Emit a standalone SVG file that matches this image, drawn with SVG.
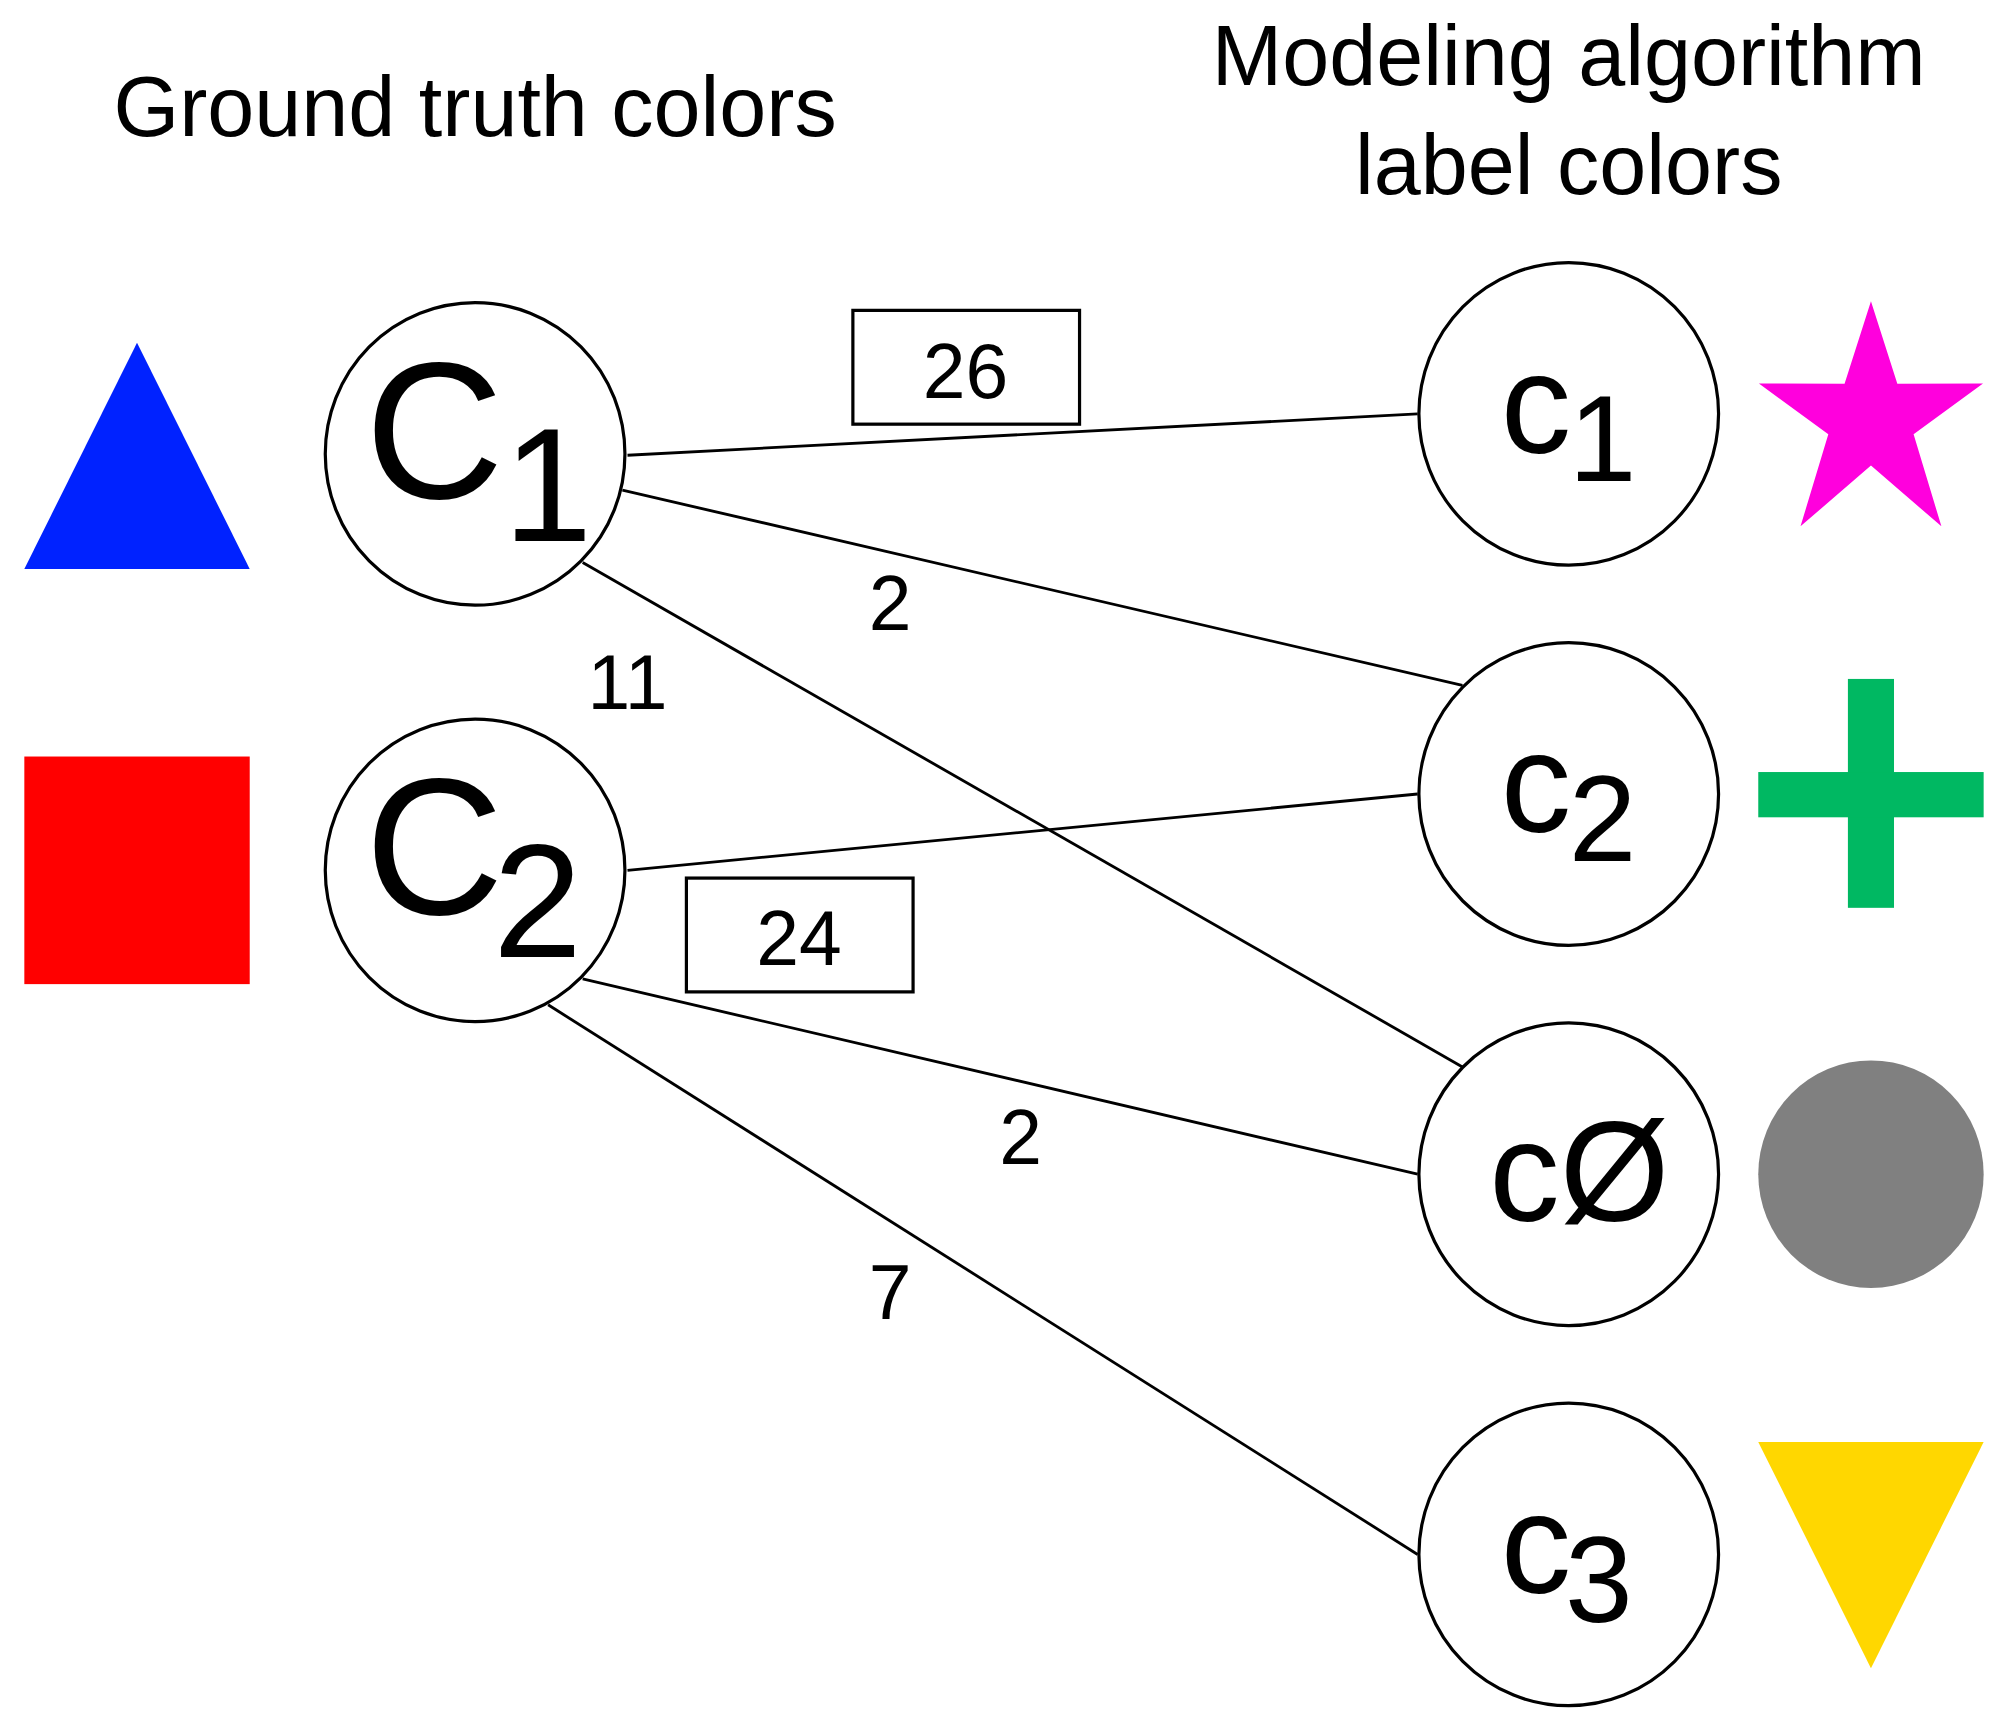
<svg xmlns="http://www.w3.org/2000/svg" width="2008" height="1720" viewBox="0 0 2008 1720">
<style>
.n{fill:#fff;stroke:#000;stroke-width:2.5}
.e{stroke:#000;stroke-width:2.2;fill:none}
text{font-family:"Liberation Sans",Arial,sans-serif;fill:#000}
.t{font-size:66px;text-anchor:middle}
.l{font-size:60px;text-anchor:middle}
.b{fill:#fff;stroke:#000;stroke-width:2.5}
</style>
<rect width="2008" height="1720" fill="#fff"/>
<g transform="scale(1.2806,1.2932)">
<text class="t" x="371" y="105">Ground truth colors</text>
<text class="t" x="1225" y="66">Modeling algorithm</text>
<text class="t" x="1225" y="150">label colors</text>
<g id="connectors">
<line class="e" x1="490" y1="352" x2="1107" y2="320"/>
<line class="e" x1="486" y1="379" x2="1142" y2="530"/>
<line class="e" x1="455" y1="435" x2="1142" y2="825"/>
<line class="e" x1="490" y1="673" x2="1107" y2="614"/>
<line class="e" x1="455" y1="757" x2="1107" y2="908"/>
<line class="e" x1="428" y1="777" x2="1107" y2="1202"/>
<rect class="b" x="666" y="240" width="177" height="88"/>
<text class="l" x="754" y="308">26</text>
<rect class="b" x="536" y="679" width="177" height="88"/>
<text class="l" x="624" y="746">24</text>
<text class="l" x="695" y="487">2</text>
<text class="l" x="490" y="548">11</text>
<text class="l" x="797" y="900">2</text>
<text class="l" x="695" y="1020">7</text>
</g>
<g id="C1"><circle class="n" cx="371" cy="351" r="117"/><text x="285" y="385" font-size="150">C</text><text x="393" y="418" font-size="125">1</text></g>
<g id="C2"><circle class="n" cx="371" cy="673" r="117"/><text x="285" y="707" font-size="150">C</text><text x="385" y="740" font-size="125">2</text></g>
<g id="c1"><circle class="n" cx="1225" cy="320" r="117"/><text x="1172" y="350" font-size="110">c</text><text x="1225" y="372" font-size="95">1</text></g>
<g id="c2"><circle class="n" cx="1225" cy="614" r="117"/><text x="1172" y="643" font-size="110">c</text><text x="1225" y="666" font-size="95">2</text></g>
<g id="c0"><circle class="n" cx="1225" cy="908" r="117"/><text x="1163" y="944" font-size="110">cØ</text></g>
<g id="c3"><circle class="n" cx="1225" cy="1202" r="117"/><text x="1172" y="1232" font-size="110">c</text><text x="1222" y="1254" font-size="95">3</text></g>
<g id="legend">
<polygon points="107,265 19,440 195,440" fill="#0022ff"/>
<rect x="19" y="585" width="176" height="176" fill="#ff0000"/>
<polygon points="1461,233 1481.6,296.7 1548.5,296.6 1494.3,335.8 1516,407 1461,360 1406,407 1427.7,335.8 1373.5,296.6 1440.4,296.7" fill="#ff00dd"/>
<rect x="1443" y="525" width="36" height="177" fill="#00b862"/>
<rect x="1373" y="597" width="176" height="35" fill="#00b862"/>
<ellipse cx="1461" cy="908" rx="88" ry="88" fill="#808080"/>
<polygon points="1373,1115 1549,1115 1461,1290" fill="#ffd700"/>
</g>
</g>
</svg>
